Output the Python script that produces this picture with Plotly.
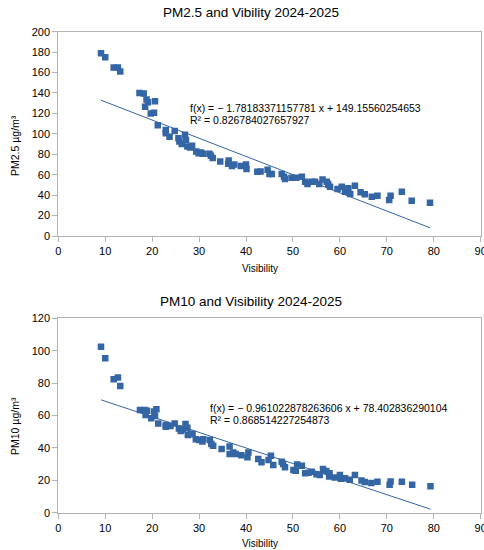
import plotly.graph_objects as go

# ---------------- data ----------------
pm25_visibility = [9.1, 10.0, 11.8, 12.7, 13.2, 17.3, 18.2, 18.8, 18.5, 19.1,
                   20.6, 19.7, 20.4, 21.2, 22.9, 22.9, 23.7, 24.8, 25.6, 25.8,
                   26.3, 27.0, 27.2, 27.5, 28.1, 28.5, 29.4, 29.9, 30.4, 30.8,
                   32.2, 32.5, 32.9, 34.5, 36.2, 36.3, 37.0, 37.5, 38.9, 40.0,
                   40.1, 42.4, 43.1, 44.6, 45.0, 45.5, 47.6, 48.1, 48.3, 49.7,
                   50.7, 51.9, 52.6, 53.1, 54.0, 54.7, 55.6, 56.3, 57.2, 57.5,
                   57.9, 59.5, 60.4, 61.1, 61.8, 62.2, 63.2, 64.4, 65.3, 66.8,
                   68.0, 70.5, 70.8, 73.2, 75.3, 79.2]
pm25_values = [179, 175, 165, 165, 161, 140, 139.5, 133.7, 126.5, 131,
               132, 120, 120.6, 108.3, 103.7, 100.5, 97.2, 102.7, 95.6, 92.4,
               90, 99, 94, 87.7, 86.7, 88.3, 82.8, 81, 81.8, 80.5,
               80.5, 78.6, 76.3, 73, 70.8, 74, 68.6, 70, 68.6, 70,
               65.5, 62.9, 63.2, 64.8, 60.8, 60.6, 60.6, 58, 55.7, 57,
               57, 58, 53.2, 50.9, 53.2, 53.2, 50.9, 55.4, 53.2, 50.9,
               48.3, 46, 48.3, 43.4, 46.7, 41.2, 49.3, 42.8, 40.8, 38.5,
               39.5, 35.2, 39.5, 43.4, 34.6, 32.6]

pm10_visibility = [9.1, 10.0, 11.8, 12.7, 13.2, 17.4, 18.4, 18.9, 18.6, 19.8,
                   20.6, 20.9, 20.4, 21.3, 22.9, 22.9, 23.9, 24.8, 25.7, 26.1,
                   26.6, 27.1, 27.5, 27.6, 28.2, 28.6, 29.3, 30.0, 30.7, 30.9,
                   32.3, 32.6, 33.0, 34.8, 36.5, 36.5, 37.3, 37.8, 39.0, 40.3,
                   40.5, 42.6, 43.3, 44.8, 45.3, 45.8, 47.6, 47.9, 48.3, 50.1,
                   50.6, 50.9, 51.9, 52.6, 53.3, 54.0, 55.0, 55.7, 56.4, 57.1,
                   57.7, 57.8, 58.9, 60.0, 60.2, 61.1, 62.1, 63.2, 64.6, 65.3,
                   66.7, 68.0, 70.6, 70.8, 73.2, 75.4, 79.3]
pm10_values = [102.5, 95.3, 82.3, 83.4, 78.2, 63.4, 63.4, 63.0, 60.3, 58.3,
               59.7, 63.8, 62.4, 55.1, 54.1, 53.0, 53.5, 55.1, 52.0, 50.4,
               51.4, 54.7, 52.5, 47.9, 48.6, 48.6, 45.3, 44.9, 43.9, 45.3,
               44.9, 42.4, 41.4, 39.3, 40.8, 36.3, 37.1, 36.3, 35.5, 34.2,
               37.1, 33.2, 31.1, 32.5, 35.1, 29.5, 31.5, 30.0, 28.0, 26.3,
               25.9, 29.8, 29.0, 24.3, 24.7, 25.3, 23.7, 23.3, 27.0, 25.7,
               22.3, 24.3, 21.7, 23.3, 20.9, 21.3, 20.3, 23.3, 19.9, 18.9,
               18.3, 19.1, 17.3, 19.3, 19.1, 17.3, 16.3]

pm25_slope, pm25_intercept = -1.78183371157781, 149.15560254653
pm10_slope, pm10_intercept = -0.961022878263606, 78.402836290104

titles = ["PM2.5 and Vibility 2024-2025", "PM10 and Visibility 2024-2025"]
x_title = "Visibility"
y_titles = ["PM2.5 µg/m³", "PM10 µg/m³"]
eq_texts = [
    ["f(x) = − 1.78183371157781 x + 149.15560254653", "R² = 0.826784027657927"],
    ["f(x) = − 0.961022878263606 x + 78.402836290104", "R² = 0.868514227254873"],
]

# ---------------- figure ----------------
W, H = 484, 550
BLUE = "#3465a4"
FONT = "Liberation Sans, Arial, sans-serif"


def px(x):
    return x / W


def py(y):
    return 1 - y / H


fig = go.Figure()


def add_panel(xs, ys, slope, intercept, xa, ya):
    fig.add_trace(go.Scatter(x=xs, y=ys, mode="markers", xaxis=xa, yaxis=ya,
                             marker=dict(symbol="square", size=6.5, color=BLUE),
                             showlegend=False, hoverinfo="x+y"))
    x0, x1 = min(xs), max(xs)
    fig.add_trace(go.Scatter(x=[x0, x1], y=[slope * x0 + intercept, slope * x1 + intercept],
                             mode="lines", xaxis=xa, yaxis=ya,
                             line=dict(color=BLUE, width=1), showlegend=False,
                             hoverinfo="skip"))


add_panel(pm25_visibility, pm25_values, pm25_slope, pm25_intercept, "x", "y")
add_panel(pm10_visibility, pm10_values, pm10_slope, pm10_intercept, "x2", "y2")

axis_common = dict(showline=True, mirror=True, linecolor="#b3b3b3", linewidth=1,
                   ticks="outside", ticklen=5, tickcolor="#b3b3b3", tickwidth=1,
                   showgrid=False, zeroline=False, automargin=False,
                   ticklabeloverflow="allow",
                   tickfont=dict(family=FONT, size=11, color="#000000"))

xdom = [px(58.3), px(480.7)]
fig.update_layout(
    width=W, height=H,
    margin=dict(l=0, r=0, t=0, b=0, autoexpand=False),
    paper_bgcolor="white", plot_bgcolor="white",
    font=dict(family=FONT, color="#000000"),
    xaxis=dict(domain=xdom, range=[0, 90], dtick=10, anchor="y", **axis_common),
    yaxis=dict(domain=[py(236), py(31.7)], range=[0, 200], dtick=20, anchor="x", **axis_common),
    xaxis2=dict(domain=xdom, range=[0, 90], dtick=10, anchor="y2", **axis_common),
    yaxis2=dict(domain=[py(512.7), py(318.3)], range=[0, 120], dtick=20, anchor="x2", **axis_common),
)

ann = []
# chart titles
for t, yc in zip(titles, [12, 301]):
    ann.append(dict(text=t, x=px(250.5), y=py(yc), xref="paper", yref="paper",
                    xanchor="center", yanchor="middle", showarrow=False,
                    font=dict(family=FONT, size=13.5, color="#000000")))
# x axis titles
for yc in [268, 543]:
    ann.append(dict(text=x_title, x=px(259.5), y=py(yc), xref="paper", yref="paper",
                    xanchor="center", yanchor="middle", showarrow=False,
                    font=dict(family=FONT, size=10, color="#000000")))
# y axis titles
for t, yc in zip(y_titles, [146, 426]):
    ann.append(dict(text=t, x=px(15), y=py(yc), xref="paper", yref="paper",
                    xanchor="center", yanchor="middle", showarrow=False, textangle=-90,
                    font=dict(family=FONT, size=10.5, color="#000000")))
# regression equations
for lines, (x0, y0) in zip(eq_texts, [(188, 108), (208, 408)]):
    for i, line in enumerate(lines):
        ann.append(dict(text=line, x=px(x0), y=py(y0 + 11.5 * i), xref="paper", yref="paper",
                        xanchor="left", yanchor="middle", showarrow=False,
                        font=dict(family=FONT, size=10.5, color="#000000")))

fig.update_layout(annotations=ann)
fig.write_html("out.html", config={"displayModeBar": False},
               post_script="document.body.style.margin='0';document.body.style.padding='0';"
                           "document.body.style.overflow='hidden';")
